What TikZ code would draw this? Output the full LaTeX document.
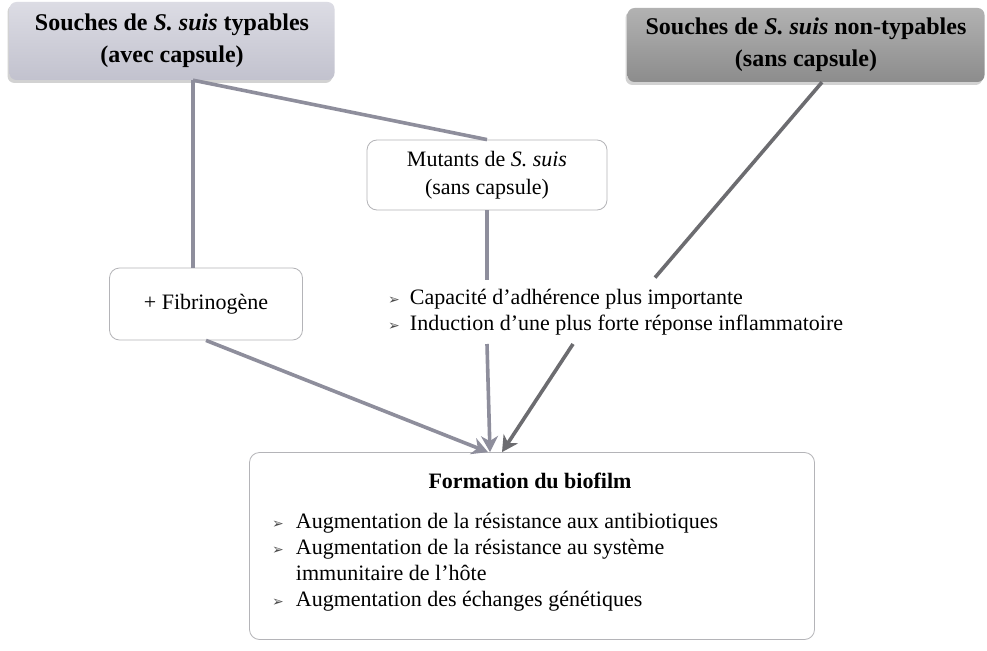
\documentclass[tikz,border=0pt]{standalone}
\usepackage{fontspec}
\setmainfont{Liberation Serif}
\newfontfamily\symfont{DejaVu Sans}
\usetikzlibrary{arrows.meta,shadows}
\definecolor{lineA}{HTML}{8E8E9C}
\definecolor{lineB}{HTML}{6C6C70}
\definecolor{boxedge}{HTML}{B4B4B8}
\definecolor{tlTop}{HTML}{DCDCE4}
\definecolor{tlBot}{HTML}{C2C2CE}
\definecolor{trTop}{HTML}{B2B2B2}
\definecolor{trBot}{HTML}{8C8C8C}
\tikzset{
  topbox/.style={rounded corners=7pt, minimum width=#1, minimum height=76pt, inner sep=0pt, align=center,
    font=\fontsize{24}{32}\selectfont\bfseries},
  lightbox/.style={topbox=#1, top color=tlTop, bottom color=tlBot,
    drop shadow={shadow xshift=-2pt, shadow yshift=-3pt, opacity=0.35}},
  darkbox/.style={topbox=#1, top color=trTop, bottom color=trBot,
    drop shadow={shadow xshift=-2pt, shadow yshift=-3pt, opacity=0.35}},
  whitebox/.style={draw=boxedge, line width=0.8pt, rounded corners=10pt, fill=white, inner sep=0pt, align=center,
    font=\fontsize{22}{28}\selectfont},
  plainline/.style={line width=3.6pt, draw=lineA},
  darkline/.style={line width=3.6pt, draw=lineB},
  arrowline/.style={line width=3.6pt, draw=lineA, -{Stealth[length=16pt,width=17pt,inset=5pt]}},
  bul/.style={font=\fontsize{22}{26}\selectfont, inner sep=0pt, align=left},
}
\newcommand{\arrbul}{{\symfont\fontsize{14}{14}\selectfont\textcolor{black!70}{➢}}}
\begin{document}
\begin{tikzpicture}[x=1pt,y=-1pt]
\useasboundingbox (0,0) rectangle (987,650);
\fill[white] (0,0) rectangle (987,650);

% boxes
\node[lightbox=325pt, minimum height=78pt] (tl) at (172,41) {Souches de \textit{S. suis} typables\\(avec capsule)};
\node[darkbox=357pt, minimum height=74pt] (tr) at (806,45) {Souches de \textit{S. suis} non-typables\\(sans capsule)};
\node[whitebox, minimum width=240pt, minimum height=70pt] (mut) at (487,175) {Mutants de \textit{S. suis}\\(sans capsule)};
\node[whitebox, minimum width=193pt, minimum height=72pt] (fib) at (206,304) {+ Fibrinogène};
\node[bul, anchor=base west] (list) at (388,304) {%
  \begin{tabular}[t]{@{}l@{\hspace{10pt}}l@{}}
  \arrbul & Capacité d’adhérence plus importante\\
  \arrbul & Induction d’une plus forte réponse inflammatoire
  \end{tabular}};
\node[whitebox, minimum width=565pt, minimum height=187pt] (bio) at (532,546) {};
\node[font=\fontsize{22}{26}\selectfont\bfseries, inner sep=0pt, anchor=base] (biot) at (530,488) {Formation du biofilm};
\node[bul, anchor=base west] (biol) at (272,528) {%
  \begin{tabular}[t]{@{}l@{\hspace{12pt}}l@{}}
  \arrbul & Augmentation de la résistance aux antibiotiques\\
  \arrbul & Augmentation de la résistance au système\\
          & immunitaire de l’hôte\\
  \arrbul & Augmentation des échanges génétiques
  \end{tabular}};

% connectors
\draw[plainline] ([xshift=21pt]tl.south) -- ([xshift=-13pt]fib.north);
\draw[plainline] ([xshift=21pt]tl.south) -- (mut.north);
\draw[plainline] (mut.south) -- ([yshift=6pt]mut.south |- list.north);
\draw[darkline] ([xshift=16pt]tr.south) -- ([xshift=267pt,yshift=8pt]list.north west);
\draw[arrowline] (fib.south) -- ([xshift=-44pt]bio.north);
\draw[arrowline] ([xshift=99pt,yshift=-6pt]list.south west) -- ([xshift=-42pt]bio.north);
\draw[arrowline, draw=lineB] ([xshift=185pt,yshift=-6pt]list.south west) -- ([xshift=-30pt]bio.north);
\end{tikzpicture}
\end{document}
